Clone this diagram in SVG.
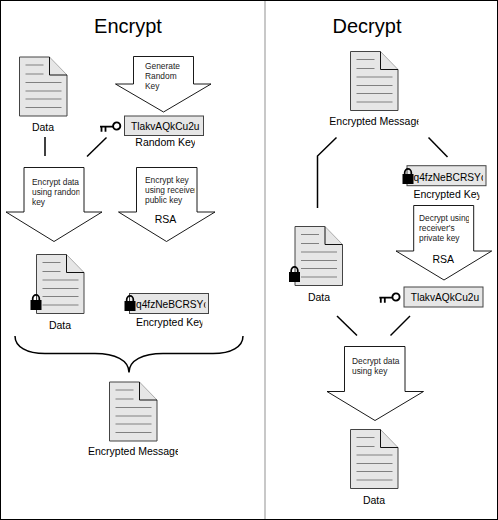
<svg xmlns="http://www.w3.org/2000/svg" width="498" height="520" viewBox="0 0 498 520">
<style>
text{font-family:"Liberation Sans",Arial,sans-serif;fill:#000}
.t{font-size:20px;text-anchor:middle}
.l{font-size:10.500px;text-anchor:middle}
.m{font-size:10.500px}
.s{font-size:8.400px;fill:#222}
.k{font-size:10.200px}
.c{fill:none;stroke:#000;stroke-width:1.500}
.a{fill:#fff;stroke:#000;stroke-width:.9}
.d{fill:#e6e6e6;stroke:none}
.e{fill:none;stroke:#444;stroke-width:1}
.g{fill:none;stroke:#999;stroke-width:.8}
.f{fill:none;stroke:#111;stroke-width:1}
.dl{fill:none;stroke:#808080;stroke-width:1}
.b{fill:#e6e6e6;stroke:#444;stroke-width:1}
</style>
<defs>
<g id="doc">
<path class="d" d="M0 0H30L47.500 18V59H0Z"/>
<path class="e" d="M47.500 18V59H0V0H30"/>
<path class="g" d="M30 0L47.500 18"/>
<path class="f" d="M30 0V18H47.500"/>
<path class="dl" d="M6 8H24M6 17H24M6 25.500H42M6 34H42M6 42H42M6 50.500H42"/>
</g>
<g id="lock">
<path d="M2.200 7V4.500A3.300 3.600 0 0 1 8.800 4.500V7" fill="none" stroke="#000" stroke-width="1.700"/>
<rect x="0" y="6" width="11" height="10" fill="#000"/>
</g>
<g id="key">
<circle cx="16.700" cy="4" r="3.600" fill="none" stroke="#000" stroke-width="1.900"/>
<path d="M0 4.700H13M1.500 4.700V9.700M5.500 4.700V9.700" fill="none" stroke="#000" stroke-width="1.800"/>
</g>
<clipPath id="c1"><rect x="88" y="440" width="90" height="20"/></clipPath>
<clipPath id="c2"><rect x="329" y="110" width="89.500" height="20"/></clipPath>
<clipPath id="c3"><rect x="125" y="135" width="70" height="20"/></clipPath>
<clipPath id="c4"><rect x="130" y="314" width="72.500" height="20"/></clipPath>
<clipPath id="c5"><rect x="408" y="187" width="71.500" height="20"/></clipPath>
<clipPath id="c6"><rect x="131" y="295" width="74.500" height="18"/></clipPath>
<clipPath id="c7"><rect x="409" y="167" width="74" height="18"/></clipPath>
<clipPath id="c8"><rect x="29" y="170" width="50.500" height="40"/></clipPath>
<clipPath id="c9"><rect x="141" y="170" width="54" height="40"/></clipPath>
<clipPath id="c10"><rect x="415" y="208" width="54" height="40"/></clipPath>
</defs>

<g id="panels">
<rect x=".5" y=".5" width="497" height="519" fill="#fff" stroke="#000"/>
<rect x="264" y="1" width="2" height="518" fill="#c8c8c8"/>
</g>

<g id="connectors">
<path class="c" d="M45 137V156"/>
<path class="c" d="M106.500 137.500L87 156.500"/>
<path class="c" d="M336.500 137.500L317.500 156V208"/>
<path class="c" d="M428.500 137.500L447.500 157"/>
<path class="c" d="M337 316L357 335.500"/>
<path class="c" d="M410 316L390.500 335.500"/>
<path class="c" d="M15 336C15 347 27 353.500 45 353.500H95C115 353.500 129 360 129 372.500C129 360 143 353.500 163 353.500H213C231 353.500 243 347 243 336"/>
</g>

<text class="t" x="128" y="33">Encrypt</text>
<text class="t" x="367" y="33">Decrypt</text>

<g id="enc-data">
<use href="#doc" x="19.500" y="57"/>
<text class="l" x="43" y="131">Data</text>
</g>

<g id="gen-key">
<path class="a" d="M133.500 56.500H193.500V84H211L163.500 112L115.500 84H133.500Z"/>
<text class="s" x="145" y="68.500">Generate</text>
<text class="s" x="145" y="78.500">Random</text>
<text class="s" x="145" y="88.500">Key</text>
</g>

<g id="random-key">
<use href="#key" x="100" y="122"/>
<rect class="b" x="124.500" y="116" width="79" height="19.500"/>
<text class="k" x="131" y="130">TlakvAQkCu2u</text>
<text class="m" x="135.300" y="146" clip-path="url(#c3)">Random Key</text>
</g>

<g id="encrypt-data">
<path class="a" d="M24 167.500H84V212H102L54 241.500L6 212H24Z"/>
<g clip-path="url(#c8)">
<text class="s" x="32" y="184.500">Encrypt data</text>
<text class="s" x="32" y="194.500">using random</text>
<text class="s" x="32" y="204.500">key</text>
</g>
</g>

<g id="encrypt-key">
<path class="a" d="M136.500 167.500H197V212H215L166.500 241.500L118.500 212H136.500Z"/>
<g clip-path="url(#c9)">
<text class="s" x="145" y="183">Encrypt key</text>
<text class="s" x="145" y="193">using receiver's</text>
<text class="s" x="145" y="203">public key</text>
</g>
<text class="l" x="165.500" y="223">RSA</text>
</g>

<g id="locked-data">
<use href="#doc" x="36.500" y="254.500"/>
<use href="#lock" x="30.500" y="294"/>
<text class="l" x="60" y="328.500">Data</text>
</g>

<g id="encrypted-key">
<rect class="b" x="129.500" y="293.500" width="79" height="20"/>
<use href="#lock" x="124.500" y="295"/>
<text class="k" x="136" y="308.300" clip-path="url(#c6)">q4fzNeBCRSYc</text>
<text class="m" x="136" y="326" clip-path="url(#c4)">Encrypted Key</text>
</g>

<g id="encrypted-message">
<use href="#doc" x="109.500" y="382"/>
<text class="m" x="88" y="455" clip-path="url(#c1)">Encrypted Message</text>
</g>

<g id="dec-message">
<use href="#doc" x="350.500" y="51.500"/>
<text class="m" x="329.300" y="125" clip-path="url(#c2)">Encrypted Message</text>
</g>

<g id="dec-encrypted-key">
<rect class="b" x="407" y="165.700" width="79" height="20"/>
<use href="#lock" x="402.500" y="168"/>
<text class="k" x="413.500" y="180.700" clip-path="url(#c7)">q4fzNeBCRSYc</text>
<text class="m" x="413.500" y="198" clip-path="url(#c5)">Encrypted Key</text>
</g>

<g id="decrypt-key">
<path class="a" d="M413.700 205.500H473.700V251H491.700L444 280L396 251H413.700Z"/>
<g clip-path="url(#c10)">
<text class="s" x="419" y="221">Decrypt using</text>
<text class="s" x="419" y="231">receiver's</text>
<text class="s" x="419" y="241">private key</text>
</g>
<text class="l" x="443.300" y="262.500">RSA</text>
</g>

<g id="dec-locked-data">
<use href="#doc" x="295" y="226.500"/>
<use href="#lock" x="289" y="266"/>
<text class="l" x="319" y="301">Data</text>
</g>

<g id="dec-random-key">
<use href="#key" x="379.300" y="293"/>
<rect class="b" x="404" y="287" width="79" height="20"/>
<text class="k" x="410.700" y="301">TlakvAQkCu2u</text>
</g>

<g id="decrypt-data">
<path class="a" d="M344.500 346.500H405V391.500H423.500L375 420.500L327 391.500H344.500Z"/>
<text class="s" x="352" y="364">Decrypt data</text>
<text class="s" x="352" y="374">using key</text>
</g>

<g id="final-data">
<use href="#doc" x="350.500" y="429.500"/>
<text class="l" x="374" y="504">Data</text>
</g>
</svg>
